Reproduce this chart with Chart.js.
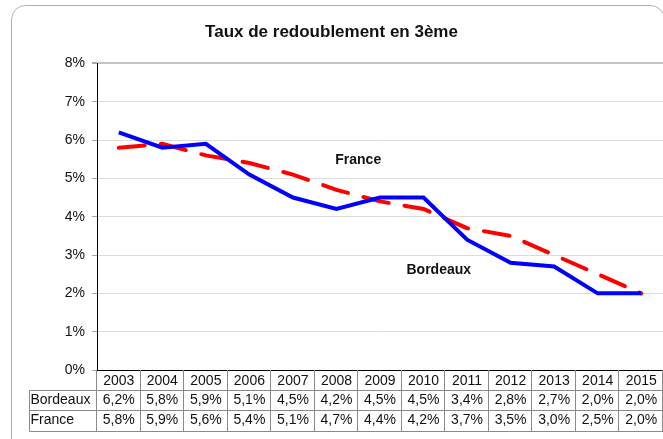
<!DOCTYPE html>
<html>
<head>
<meta charset="utf-8">
<script src="https://cdn.jsdelivr.net/npm/chart.js@4"></script>
<style>
  html, body { margin: 0; padding: 0; background: #fff; }
  #wrap { width: 663px; height: 439px; position: relative; }
</style>
</head>
<body>
<div id="wrap"><canvas id="tauxChart" width="663" height="439"></canvas></div>
<script>
const annees = ['2003', '2004', '2005', '2006', '2007', '2008', '2009', '2010', '2011', '2012', '2013', '2014', '2015'];
const bordeaux = [6.2, 5.8, 5.9, 5.1, 4.5, 4.2, 4.5, 4.5, 3.4, 2.8, 2.7, 2.0, 2.0];
const france = [5.8, 5.9, 5.6, 5.4, 5.1, 4.7, 4.4, 4.2, 3.7, 3.5, 3.0, 2.5, 2.0];
const yTicks = ['0%', '1%', '2%', '3%', '4%', '5%', '6%', '7%', '8%'];

const FONT = '"Liberation Sans", Arial, Helvetica, sans-serif';
const fmt = v => v.toFixed(1).replace('.', ',') + '%';

// cadre arrondi autour du graphique
const cadre = {
  id: 'cadre',
  beforeDraw(chart) {
    const ctx = chart.ctx;
    ctx.save();
    ctx.strokeStyle = '#b0b0b0';
    ctx.lineWidth = 1;
    ctx.beginPath();
    ctx.roundRect(11.5, 5.5, 653, 450, 14);
    ctx.stroke();
    ctx.restore();
  }
};

// tableau de données sous l'axe x + étiquettes des séries
const tableau = {
  id: 'tableau',
  afterDraw(chart) {
    const ctx = chart.ctx;
    const x = chart.scales.x;
    const y = chart.scales.y;
    const area = chart.chartArea;
    const col = (x.getPixelForValue(1) - x.getPixelForValue(0));
    const rows = [area.bottom, area.bottom + 19.5, area.bottom + 39.5, area.bottom + 61];
    const left = 29.5;
    ctx.save();
    ctx.strokeStyle = '#8a8a8a';
    ctx.lineWidth = 1;
    ctx.beginPath();
    // horizontales
    for (let r = 1; r < rows.length; r++) {
      const yy = Math.round(rows[r]) + 0.5;
      ctx.moveTo(left, yy);
      ctx.lineTo(area.right, yy);
    }
    // verticales
    for (let i = 0; i <= annees.length; i++) {
      const xx = Math.round(area.left + i * col) - 0.5;
      ctx.moveTo(xx, rows[0]);
      ctx.lineTo(xx, rows[3]);
    }
    ctx.moveTo(left, Math.round(rows[1]) + 0.5);
    ctx.lineTo(left, Math.round(rows[3]) + 0.5);
    ctx.stroke();

    ctx.fillStyle = '#111';
    ctx.font = '14px ' + FONT;
    ctx.textBaseline = 'middle';
    ctx.textAlign = 'center';
    annees.forEach((a, i) => {
      const cx = x.getPixelForValue(i);
      ctx.fillText(a, cx, (rows[0] + rows[1]) / 2 + 1);
      ctx.fillText(fmt(bordeaux[i]), cx, (rows[1] + rows[2]) / 2 + 1);
      ctx.fillText(fmt(france[i]), cx, (rows[2] + rows[3]) / 2);
    });
    ctx.textAlign = 'left';
    ctx.fillText('Bordeaux', left + 1, (rows[1] + rows[2]) / 2 + 1);
    ctx.fillText('France', left + 1, (rows[2] + rows[3]) / 2);

    // étiquettes des séries dans le graphique
    ctx.font = 'bold 14px ' + FONT;
    ctx.textAlign = 'center';
    ctx.fillStyle = '#111';
    ctx.fillText('France', x.getPixelForValue(5.5), y.getPixelForValue(5.48));
    ctx.fillText('Bordeaux', x.getPixelForValue(7.35), y.getPixelForValue(2.6));
    ctx.restore();
  }
};

new Chart(document.getElementById('tauxChart'), {
  type: 'line',
  data: {
    labels: annees,
    datasets: [{
      label: 'Bordeaux',
      data: bordeaux,
      borderColor: '#0000ff',
      borderWidth: 4,
      pointRadius: 0,
      tension: 0
    }, {
      label: 'France',
      data: france,
      borderColor: '#ff0000',
      borderWidth: 4,
      borderDash: [26, 16],
      borderCapStyle: 'round',
      pointRadius: 0,
      tension: 0
    }]
  },
  options: {
    responsive: false,
    animation: false,
    layout: { padding: { left: 0, right: 0, top: 0, bottom: 0 } },
    plugins: {
      legend: { display: false },
      tooltip: { enabled: false },
      title: {
        display: true,
        text: 'Taux de redoublement en 3ème',
        color: '#111',
        font: { family: FONT, size: 17, weight: 'bold', lineHeight: 1.2 },
        padding: { top: 22, bottom: 21 }
      }
    },
    scales: {
      x: {
        offset: true,
        ticks: { display: false },
        grid: { display: false, drawTicks: false },
        border: { color: '#000', width: 1 },
        afterFit: s => { s.height = 69; }
      },
      y: {
        min: 0,
        max: 8,
        ticks: {
          stepSize: 1,
          padding: 7,
          color: '#111',
          font: { family: FONT, size: 14 },
          callback: (v, i) => yTicks[i]
        },
        grid: {
          color: ctx => ctx.index === 8 ? '#c4c4c4' : '#dcdcdc',
          lineWidth: ctx => ctx.index === 8 ? 2 : 1,
          tickLength: 5,
          tickColor: '#aaa'
        },
        border: { color: '#000', width: 1 },
        afterFit: s => { s.width = 97; }
      }
    }
  },
  plugins: [cadre, tableau]
});
</script>
</body>
</html>
